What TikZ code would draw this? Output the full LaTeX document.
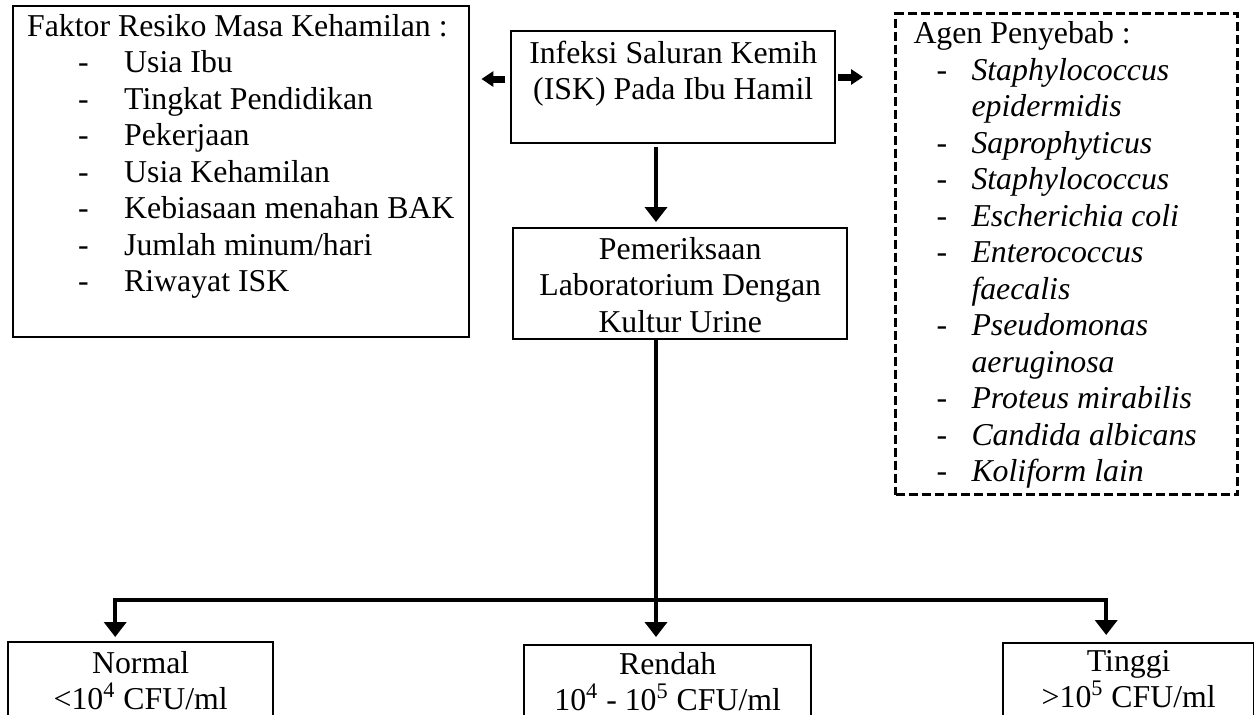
\documentclass[tikz,border=0pt]{standalone}
\usepackage{fontspec}
\setmainfont{Liberation Serif}
\usetikzlibrary{arrows.meta}

\newcommand{\fitem}[1]{\hspace*{32.5pt}\makebox[23pt][l]{-}#1}
\newcommand{\aitem}[1]{\hspace*{20.5pt}\makebox[17.5pt][l]{-}\textit{#1}}
\newcommand{\alanjut}[1]{\hspace*{38pt}\textit{#1}}

\begin{document}
\begin{tikzpicture}[x=0.5pt,y=-0.5pt,font=\fontsize{15.9}{18.25}\selectfont]
    \clip (0,0) rectangle (1254,714);

        \begin{scope}[every node/.style={draw,line width=1.2pt,anchor=north west,inner sep=0pt}]
            \node (faktor) at (12,5) {\parbox[t][165.5pt][t]{228pt}{\rule{0pt}{15pt}\hspace*{7pt}Faktor Resiko Masa Kehamilan :\\
                \fitem{Usia Ibu}\\
                \fitem{Tingkat Pendidikan}\\
                \fitem{Pekerjaan}\\
                \fitem{Usia Kehamilan}\\
                \fitem{Kebiasaan menahan BAK}\\
                \fitem{Jumlah minum/hari}\\
                \fitem{Riwayat ISK}}};
            \node (isk) at (510,30) {\parbox[t][56pt][t]{162pt}{\centering\rule{0pt}{16pt}Infeksi Saluran Kemih\\ (ISK) Pada Ibu Hamil}};
            \node[line width=1.5pt,dash pattern=on 4.5pt off 2pt] (agen) at (894,12) {\parbox[t][240.5pt][t]{171pt}{\rule{0pt}{15pt}\hspace*{9pt}Agen Penyebab :\\
                \aitem{Staphylococcus}\\
                \alanjut{epidermidis}\\
                \aitem{Saprophyticus}\\
                \aitem{Staphylococcus}\\
                \aitem{Escherichia coli}\\
                \aitem{Enterococcus}\\
                \alanjut{faecalis}\\
                \aitem{Pseudomonas}\\
                \alanjut{aeruginosa}\\
                \aitem{Proteus mirabilis}\\
                \aitem{Candida albicans}\\
                \aitem{Koliform lain}}};
            \node (lab) at (512,227) {\parbox[t][55.5pt][t]{167pt}{\centering\rule{0pt}{15.5pt}Pemeriksaan\\ Laboratorium Dengan\\ Kultur Urine}};
            \node (normal) at (7,641) {\parbox[t][60pt][t]{132.5pt}{\centering\rule{0pt}{15.5pt}Normal\\ \textless10\textsuperscript{4} CFU/ml}};
            \node (rendah) at (523,644) {\parbox[t][60pt][t]{143.5pt}{\centering\rule{0pt}{14.5pt}Rendah\\ 10\textsuperscript{4} - 10\textsuperscript{5} CFU/ml}};
            \node (tinggi) at (1002,642) {\parbox[t][60pt][t]{125.5pt}{\centering\rule{0pt}{14pt}Tinggi\\ \textgreater10\textsuperscript{5} CFU/ml}};
        \end{scope}

        \coordinate (cab) at (656,600);

        \begin{scope}[panah/.style={line width=2pt,-{Triangle[width=11pt,length=7.5pt]}},
                      blok/.style={line width=3.5pt,-{Triangle[width=7.5pt,length=6pt]}}]
            \draw [blok,shorten <=2.5pt,shorten >=5.5pt] (isk.west |- 0,79) -- (faktor.east |- 0,79);
            \draw [blok,shorten <=1pt,shorten >=15.5pt] (isk.east |- 0,77) -- (agen.west |- 0,77);

            \draw [panah,shorten <=1.5pt,shorten >=2.5pt] (isk.south -| cab) -- (lab.north -| cab);
            \draw [line width=2pt] (lab.south -| cab) -- (cab);

            \draw [panah,shorten >=2pt] (cab) -| ([xshift=-12.75pt]normal.north);
            \draw [panah,shorten >=3.5pt] (cab) -- (rendah.north -| cab);
            \draw [panah,shorten >=3.5pt] (cab) -| ([xshift=-11.25pt]tinggi.north);
        \end{scope}

    \end{tikzpicture}
\end{document}
